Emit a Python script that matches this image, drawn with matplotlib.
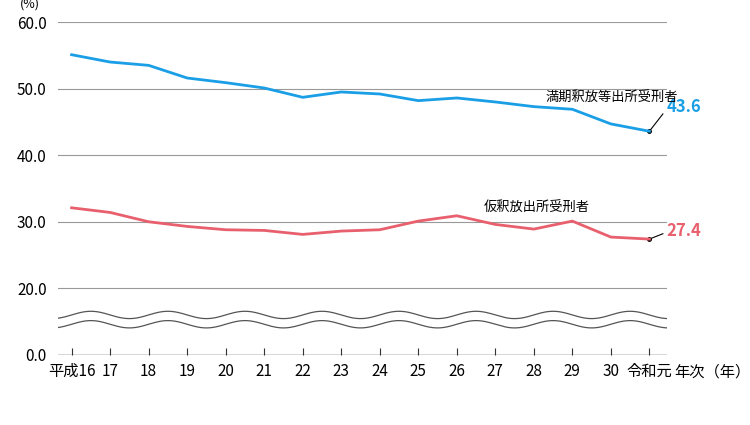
import numpy as np
import matplotlib
matplotlib.use("Agg")
import matplotlib.pyplot as plt

plt.rcParams["font.family"] = "Noto Sans CJK JP"

YEARS = ["平成16", "17", "18", "19", "20", "21", "22", "23", "24", "25",
         "26", "27", "28", "29", "30", "令和元"]
MANKI = [55.1, 54.0, 53.5, 51.6, 50.9, 50.1, 48.7, 49.5, 49.2, 48.2,
         48.6, 48.0, 47.3, 46.9, 44.7, 43.6]
KARI = [32.1, 31.4, 30.0, 29.3, 28.8, 28.7, 28.1, 28.6, 28.8, 30.1,
        30.9, 29.6, 28.9, 30.1, 27.7, 27.4]
YTICKS = [10, 20, 30, 40, 50, 60]          # axis positions (break: 0 shown at 10)
YLABELS = ["0.0", "20.0", "30.0", "40.0", "50.0", "60.0"]

BLUE = "#1a9fe6"
RED = "#e8606e"

fig = plt.figure(figsize=(7.5, 4.25), dpi=100)
ax = fig.add_axes([0.077, 0.165, 0.813, 0.783])
x = np.arange(len(YEARS))
ax.set_xlim(-0.36, 15.47)
ax.set_ylim(10, 60)

for t in YTICKS[1:]:
    ax.axhline(t, color="#999999", lw=0.8, zorder=1)
ax.axhline(10, color="#333333", lw=1.0, zorder=1)

ax.plot(x, MANKI, color=BLUE, lw=2, zorder=3)
ax.plot(x, KARI, color=RED, lw=2, zorder=3)

# axis break waves
wx = np.linspace(-0.36, 15.47, 600)
w = 0.55 * np.sin(wx * np.pi)
ax.fill_between(wx, 14.6 + w, 16.0 + w, color="white", zorder=2)
ax.plot(wx, 16.0 + w, color="#555555", lw=0.9, zorder=2)
ax.plot(wx, 14.6 + w, color="#555555", lw=0.9, zorder=2)

for s in ["top", "right", "left", "bottom"]:
    ax.spines[s].set_visible(False)
ax.set_yticks(YTICKS)
ax.set_yticklabels(YLABELS, fontsize=11)
ax.tick_params(axis="y", length=0, pad=8)
ax.set_xticks(x)
ax.set_xticklabels(YEARS, fontsize=11)
ax.tick_params(axis="x", length=5, color="#333333", direction="in", pad=6)

ax.text(-0.03, 1.045, "(%)", transform=ax.transAxes, ha="right", fontsize=9)
ax.text(15.65, 10 - 2.6, "年次（年）", ha="left", va="center", fontsize=11, clip_on=False)

# annotations
ax.plot([x[-1], 15.35], [MANKI[-1], 46.2], color="black", lw=0.8, clip_on=False)
ax.plot(x[-1], MANKI[-1], "ko", ms=2.5)
ax.text(15.45, 47.3, f"{MANKI[-1]:.1f}", color=BLUE, fontsize=12, fontweight="bold",
        va="center", clip_on=False)
ax.text(12.3, 48.6, "満期釈放等出所受刑者", fontsize=9.5, va="center")
ax.plot([x[-1], 15.35], [KARI[-1], 28.2], color="black", lw=0.8, clip_on=False)
ax.plot(x[-1], KARI[-1], "ko", ms=2.5)
ax.text(15.45, 28.6, f"{KARI[-1]:.1f}", color=RED, fontsize=12, fontweight="bold",
        va="center", clip_on=False)
ax.text(10.7, 32.2, "仮釈放出所受刑者", fontsize=9.5, va="center")

fig.savefig("out.png", dpi=100)
